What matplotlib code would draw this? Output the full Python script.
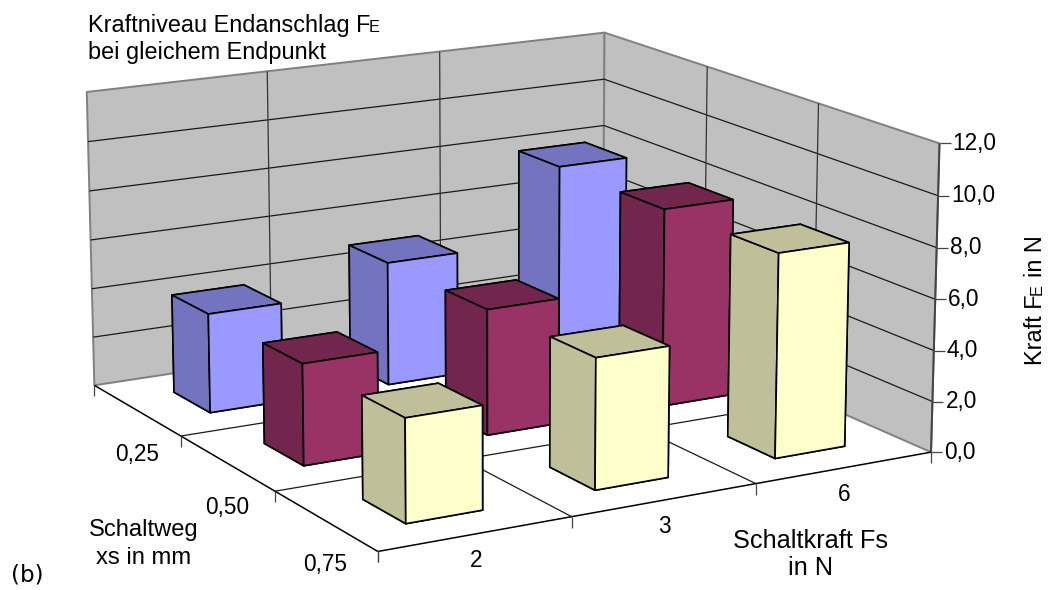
import matplotlib
matplotlib.use('Agg')
import numpy as np
import matplotlib.pyplot as plt
from matplotlib.markers import TICKDOWN, TICKRIGHT
from mpl_toolkits.mplot3d import proj3d
from mpl_toolkits.mplot3d.art3d import Poly3DCollection

plt.rcParams['font.family'] = ['Liberation Sans', 'DejaVu Sans']

W, H = 1049, 590
force_labels = ['2', '3', '6']                # Schaltkraft Fs
travel_labels = ['0,75', '0,50', '0,25']      # Schaltweg xs, front to back
z_ticks = [0, 2, 4, 6, 8, 10, 12]
z_labels = ['0,0', '2,0', '4,0', '6,0', '8,0', '10,0', '12,0']
values_025 = [4.0, 5.03, 8.03]
values_050 = [3.98, 5.0, 7.97]
values_075 = [3.96, 5.07, 8.0]
series = [values_075, values_050, values_025]
front_colors = ['#FFFFCC', '#993366', '#9999FF']
dark_colors = ['#BFBF99', '#73264D', '#7373BF']

fig = plt.figure(figsize=(W / 100, H / 100), dpi=100, facecolor='white')
s = float(np.exp(8.49241))
cx, cy = 501.33207, 268.82458
L = s * 0.185
ax = fig.add_axes([(cx - .095 * s) / W, (H - cy - .095 * s) / H, L / W, L / H], projection='3d')
ax.computed_zorder = False
ax.set_xlim(0, 3); ax.set_ylim(0, 3); ax.set_zlim(0, 12)
ax.set_proj_type('persp', focal_length=float(np.exp(-0.16473)))
ax.view_init(elev=14.63247, azim=-119.79740)
ax.set_box_aspect((1, float(np.exp(0.01140)), float(np.exp(-0.68353))))
ax.set_axis_off()

WALL = '#C0C0C0'
EDGE = '#808080'
zmax = z_ticks[-1]
nx, ny = len(force_labels), len(travel_labels)
walls = Poly3DCollection(
    [[(0, ny, 0), (nx, ny, 0), (nx, ny, zmax), (0, ny, zmax)],
     [(nx, ny, 0), (nx, 0, 0), (nx, 0, zmax), (nx, ny, zmax)]],
    facecolors=WALL, edgecolors=EDGE, linewidths=1.4, zorder=0, clip_on=False)
ax.add_collection3d(walls)

def line(xs, ys, zs, color='#1a1a1a', lw=0.9, z=1, **kw):
    ax.plot(xs, ys, zs, color=color, lw=lw, zorder=z, clip_on=False, solid_capstyle='butt', **kw)

for zt in z_ticks[1:-1]:
    line([0, nx, nx], [ny, ny, 0], [zt, zt, zt])
for i in range(1, nx):
    line([i, i], [ny, ny], [0, zmax], color='#333333')
for j in range(1, ny):
    line([nx, nx], [j, j], [0, zmax], color='#333333')
# floor
for i in range(1, nx):
    line([i, i], [0, ny], [0, 0])
for j in range(1, ny):
    line([0, nx], [j, j], [0, 0])
line([0, nx], [0, 0], [0, 0], color='black', lw=1.1, z=2)
line([0, 0], [0, ny], [0, 0], color='black', lw=1.1, z=2)
line([nx, nx], [0, 0], [0, zmax], color='#444444', lw=1.4, z=2)
# ticks
ax.plot(range(nx + 1), [0] * (nx + 1), [0] * (nx + 1), ls='none', marker=TICKDOWN, ms=8, mew=0.9, color='#444444', clip_on=False, zorder=2)
ax.plot([0] * (ny + 1), range(ny + 1), [0] * (ny + 1), ls='none', marker=TICKDOWN, ms=8, mew=0.9, color='#444444', clip_on=False, zorder=2)
ax.plot([nx] * len(z_ticks), [0] * len(z_ticks), z_ticks, ls='none', marker=TICKRIGHT, ms=8, mew=0.9, color='#444444', clip_on=False, zorder=2)

# bars, far to near
BW, BD = 0.40, 0.41
OX, OY = 0.296, 0.282
order = 10
for j in range(ny - 1, -1, -1):
    for i in range(nx - 1, -1, -1):
        f, d = front_colors[j], dark_colors[j]
        # faces: bottom, top, -y, +y, -x, +x
        col = [d, d, f, f, d, d]
        b = ax.bar3d(i + OX, j + OY, 0, BW, BD, series[j][i], color=col, edgecolor='black',
                     linewidth=1.2, shade=False, zorder=order)
        b.set_clip_on(False)
        order += 1

M = ax.get_proj()
def label(x, y, z, text, dx, dy, **kw):
    X, Y, _ = proj3d.proj_transform(x, y, z, M)
    ax.annotate(text, xy=(X, Y), xycoords='data', xytext=(dx, dy), textcoords='offset pixels',
                annotation_clip=False, zorder=100, color='black', fontsize=16.3, **kw)

for i, t in enumerate(force_labels):
    label(i + .5, 0, 0, t, 0, -27, ha='center', va='center')
for j, t in enumerate(travel_labels):
    label(0, j + .5, 0, t, 0, -44, ha='center', va='center')
for zt, t in zip(z_ticks, z_labels):
    label(nx, 0, zt, t, 13, 0, ha='left', va='center')

def ptext(x, y, t, size=16.9, **kw):
    fig.text(x / W, 1 - y / H, t, fontsize=size, color='black', **kw)

ptext(88, 32, 'Kraftniveau Endanschlag F', va='baseline')
ptext(369, 32, 'E', size=11.7, va='baseline')
ptext(88, 59, 'bei gleichem Endpunkt', va='baseline')
ptext(144, 536, 'Schaltweg', size=17.1, ha='center', va='baseline')
ptext(144, 564, 'xs in mm', size=17.1, ha='center', va='baseline')
ptext(811, 548, 'Schaltkraft Fs', size=18.2, ha='center', va='baseline')
ptext(811, 575, 'in N', size=18.2, ha='center', va='baseline')
ptext(1042, 365, 'Kraft F', rotation=90, rotation_mode='anchor', ha='left', va='baseline')
ptext(1042, 295, 'E', size=11.7, rotation=90, rotation_mode='anchor', ha='left', va='baseline')
ptext(1042, 277, 'in N', rotation=90, rotation_mode='anchor', ha='left', va='baseline')
ptext(11, 582, '(b)', size=16.5, family='DejaVu Sans', va='baseline')

fig.savefig('out.png', dpi=100)
